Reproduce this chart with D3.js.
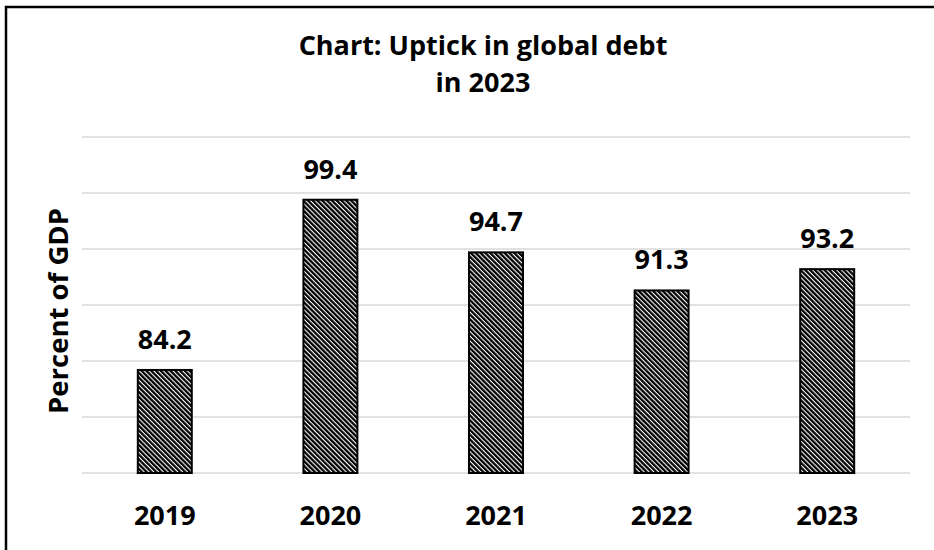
<!DOCTYPE html>
<html>
<head>
<meta charset="utf-8">
<script src="https://cdn.jsdelivr.net/npm/d3@7"></script>
<style>
  html, body { margin: 0; padding: 0; background: #fff; }
  svg { display: block; }
  text { font-family: "Open Sans", Lato, sans-serif; font-weight: 700; fill: #000; }
</style>
</head>
<body>
<svg id="chart" width="934" height="550"></svg>
<script>
// Global debt, percent of GDP
const years = ["2019", "2020", "2021", "2022", "2023"];
const debtPct = [84.2, 99.4, 94.7, 91.3, 93.2];
const gridTicks = [75, 80, 85, 90, 95, 100, 105];
const titleLines = ["Chart: Uptick in global debt", "in 2023"];
const yLabel = "Percent of GDP";

const svg = d3.select("#chart");
const W = 934, H = 550;
const plot = { left: 82, right: 910, top: 137, bottom: 473 };

// Frame around the chart area
svg.append("rect")
  .attr("x", 6).attr("y", 7)
  .attr("width", W + 20).attr("height", H + 20)
  .attr("fill", "#fff").attr("stroke", "#000").attr("stroke-width", 2.5);

// Diagonal hatch fill for the bars
const defs = svg.append("defs");
const pat = defs.append("pattern")
  .attr("id", "hatch")
  .attr("patternUnits", "userSpaceOnUse")
  .attr("width", 3.4).attr("height", 10)
  .attr("patternTransform", "rotate(-45)");
pat.append("rect").attr("width", 3.4).attr("height", 10).attr("fill", "#fff");
pat.append("rect").attr("width", 2.3).attr("height", 10).attr("fill", "#000");

const x = d3.scaleBand()
  .domain(years)
  .range([plot.left, plot.right])
  .paddingInner(0.674)
  .paddingOuter(0.337);

const y = d3.scaleLinear()
  .domain([75, 105])
  .range([plot.bottom, plot.top]);

// Horizontal gridlines
svg.append("g")
  .selectAll("line")
  .data(gridTicks)
  .join("line")
  .attr("x1", plot.left).attr("x2", plot.right)
  .attr("y1", d => y(d)).attr("y2", d => y(d))
  .attr("stroke", "#d9d9d9").attr("stroke-width", 1.5);

// Bars
const data = years.map((yr, i) => ({ year: yr, value: debtPct[i] }));
svg.append("g")
  .selectAll("rect")
  .data(data)
  .join("rect")
  .attr("x", d => x(d.year))
  .attr("y", d => y(d.value))
  .attr("width", x.bandwidth())
  .attr("height", d => y(75) - y(d.value))
  .attr("fill", "url(#hatch)")
  .attr("stroke", "#000").attr("stroke-width", 2);

// Value labels
svg.append("g")
  .selectAll("text")
  .data(data)
  .join("text")
  .attr("x", d => x(d.year) + x.bandwidth() / 2)
  .attr("y", d => y(d.value) - 21)
  .attr("text-anchor", "middle")
  .attr("font-size", 27)
  .text(d => d.value.toFixed(1));

// Category axis labels
const xAxis = d3.axisBottom(x).tickSize(0).tickPadding(0);
const gx = svg.append("g")
  .attr("transform", `translate(0,${plot.bottom})`)
  .call(xAxis);
gx.select(".domain").remove();
gx.selectAll("text")
  .attr("dy", null)
  .attr("y", 52)
  .attr("font-size", 27)
  .attr("font-family", "'Open Sans', Lato, sans-serif")
  .attr("font-weight", 700)
  .attr("fill", "#000");

// Title, two lines
svg.append("g")
  .selectAll("text")
  .data(titleLines)
  .join("text")
  .attr("x", 483)
  .attr("y", (d, i) => 55 + i * 37)
  .attr("text-anchor", "middle")
  .attr("font-size", 27)
  .text(d => d);

// Y axis title
svg.append("text")
  .attr("transform", "translate(68,311) rotate(-90)")
  .attr("text-anchor", "middle")
  .attr("font-size", 27.5)
  .text(yLabel);
</script>
</body>
</html>
